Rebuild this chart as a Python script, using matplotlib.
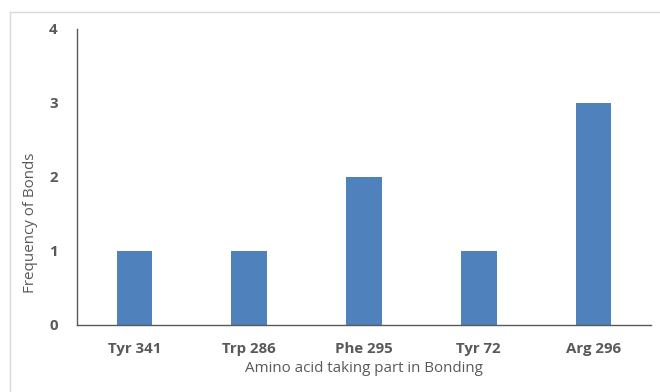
import matplotlib
matplotlib.use("Agg")
import matplotlib.pyplot as plt
from matplotlib.lines import Line2D

residues = ["Tyr 341", "Trp 286", "Phe 295", "Tyr 72", "Arg 296"]
bond_counts = [1, 1, 2, 1, 3]
y_ticks = [0, 1, 2, 3, 4]

text_gray = "#595959"
bar_blue = "#4F81BD"

plt.rcParams["font.family"] = ["Open Sans", "DejaVu Sans"]

fig = plt.figure(figsize=(6.6, 3.92), dpi=100)
fig.patch.set_facecolor("white")

# light outer frame of the chart area
fig.add_artist(Line2D([10 / 660, 1.0], [1 - 12 / 392, 1 - 12 / 392],
                      transform=fig.transFigure, color="#d9d9d9", lw=1))
fig.add_artist(Line2D([10 / 660, 10 / 660], [0.0, 1 - 12 / 392],
                      transform=fig.transFigure, color="#d9d9d9", lw=1))

ax = fig.add_axes([77 / 660, 67 / 392, 574 / 660, 296 / 392])
x = list(range(len(residues)))
ax.bar(x, bond_counts, width=0.31, color=bar_blue, zorder=2)

ax.set_xlim(-0.5, len(residues) - 0.5)
ax.set_ylim(0, 4)
ax.set_yticks(y_ticks)
ax.set_xticks(x)
ax.set_xticklabels(residues)

for side in ("top", "right"):
    ax.spines[side].set_visible(False)
for side in ("left", "bottom"):
    ax.spines[side].set_color(text_gray)
    ax.spines[side].set_linewidth(1.0)

ax.tick_params(length=0, colors=text_gray, labelsize=10.8)
ax.tick_params(axis="y", pad=14)
ax.tick_params(axis="x", pad=12)
for lbl in ax.get_xticklabels() + ax.get_yticklabels():
    lbl.set_fontweight("bold")

ax.set_xlabel("Amino acid taking part in Bonding", color=text_gray,
              fontsize=10.9, labelpad=4)
ax.set_ylabel("Frequency of Bonds", color=text_gray, fontsize=10.9)
ax.yaxis.set_label_coords(-0.068, 0.345)

fig.savefig("out.png", dpi=100, facecolor="white")
